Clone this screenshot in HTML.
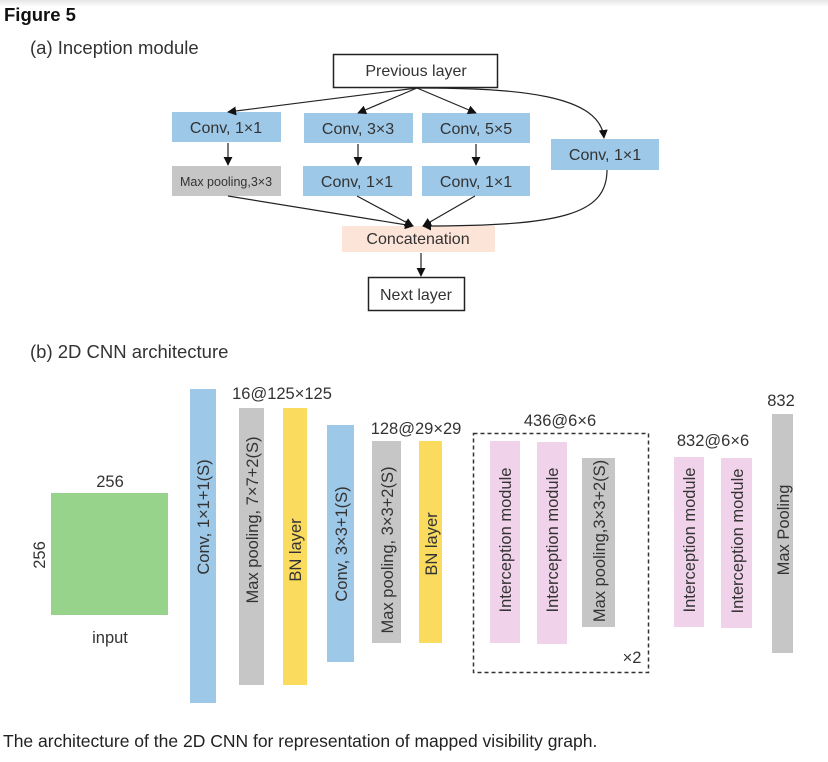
<!DOCTYPE html>
<html><head><meta charset="utf-8"><style>
html,body{margin:0;padding:0;background:#fff;}
svg{display:block;font-family:"Liberation Sans",sans-serif;}
</style></head><body>
<svg width="828" height="762" viewBox="0 0 828 762" xmlns="http://www.w3.org/2000/svg">
<defs>
<linearGradient id="sh" x1="0" y1="0" x2="0" y2="1"><stop offset="0" stop-color="#e6e6e6"/><stop offset="1" stop-color="#fff"/></linearGradient>
<marker id="ah" viewBox="0 0 10 10" refX="9" refY="5" markerWidth="9" markerHeight="9" markerUnits="userSpaceOnUse" orient="auto"><path d="M0,0 L10,5 L0,10 z" fill="#111"/></marker>
</defs>
<rect x="0" y="0" width="828" height="7" fill="url(#sh)"/>
<text x="4" y="21" font-size="18.5" font-weight="bold" fill="#111">Figure 5</text>
<text x="30" y="54" font-size="18.5" fill="#333">(a) Inception module</text>

<rect x="333.5" y="54.5" width="164" height="33" fill="#fff" stroke="#222" stroke-width="1.5"/>
<text x="416" y="76" font-size="16" fill="#333" text-anchor="middle">Previous layer</text>
<g fill="#9dc8e8">
<rect x="172" y="112" width="109" height="30"/>
<rect x="304" y="113" width="109" height="30"/>
<rect x="422" y="113" width="108" height="30"/>
<rect x="551" y="139" width="108" height="31"/>
<rect x="303" y="166" width="109" height="30"/>
<rect x="422" y="166" width="108" height="30"/>
</g>
<rect x="172" y="166" width="109" height="30" fill="#c6c6c6"/>
<rect x="342" y="226" width="153" height="26" fill="#fde4d8"/>
<rect x="368.5" y="277.5" width="96" height="33" fill="#fff" stroke="#222" stroke-width="1.5"/>
<g font-size="16" fill="#333" text-anchor="middle">
<text x="226" y="133">Conv, 1×1</text>
<text x="358" y="134">Conv, 3×3</text>
<text x="476" y="134">Conv, 5×5</text>
<text x="605" y="160">Conv, 1×1</text>
<text x="357" y="187">Conv, 1×1</text>
<text x="476" y="187">Conv, 1×1</text>
<text x="418" y="244">Concatenation</text>
<text x="416" y="300">Next layer</text>
</g>
<text x="226" y="186" font-size="12.5" fill="#333" text-anchor="middle">Max pooling,3×3</text>
<g stroke="#222" stroke-width="1.2" fill="none" marker-end="url(#ah)">
<path d="M417,88 L228,112"/>
<path d="M417,88 L358,113"/>
<path d="M417,88 L476,113"/>
<path d="M417,88 C520,88 600,95 604,138"/>
<path d="M228,143 L228,165"/>
<path d="M358,144 L358,165"/>
<path d="M476,144 L476,165"/>
<path d="M228,196 L413,226"/>
<path d="M357,196 L413,226"/>
<path d="M475,196 L423,226"/>
<path d="M607,170 C607,215 560,226 423,226"/>
<path d="M421,253 L421,276"/>
</g>

<text x="30" y="358" font-size="18.5" fill="#333">(b) 2D CNN architecture</text>

<rect x="51" y="493" width="117" height="122" fill="#97d38a"/>
<g font-size="16.5" fill="#333" text-anchor="middle">
<text x="110" y="487">256</text>
<text x="110" y="643">input</text>
<text transform="translate(45,555) rotate(-90)">256</text>
<text x="282" y="399">16@125×125</text>
<text x="416" y="434">128@29×29</text>
<text x="560" y="426">436@6×6</text>
<text x="713" y="446">832@6×6</text>
<text x="781" y="406">832</text>
<text x="632" y="663">×2</text>
</g>
<rect x="473.5" y="433.5" width="175" height="239" fill="none" stroke="#333" stroke-width="1.5" stroke-dasharray="4,3"/>
<rect x="190" y="389" width="26" height="314" fill="#9dc8e8"/>
<rect x="239" y="408" width="25" height="277" fill="#c6c6c6"/>
<rect x="283" y="408" width="24" height="277" fill="#fadb5e"/>
<rect x="327" y="425" width="27" height="237" fill="#9dc8e8"/>
<rect x="372" y="441" width="29" height="202" fill="#c6c6c6"/>
<rect x="419" y="441" width="23" height="202" fill="#fadb5e"/>
<rect x="490" y="441" width="30" height="202" fill="#f0d3ea"/>
<rect x="537" y="442" width="30" height="202" fill="#f0d3ea"/>
<rect x="582" y="458" width="33" height="169" fill="#c6c6c6"/>
<rect x="674" y="457" width="30" height="170" fill="#f0d3ea"/>
<rect x="721" y="458" width="31" height="170" fill="#f0d3ea"/>
<rect x="772" y="414" width="21" height="239" fill="#c6c6c6"/>
<g font-size="16.5" fill="#333" text-anchor="middle">
<text transform="translate(209,517) rotate(-90)">Conv, 1×1+1(S)</text>
<text transform="translate(258,520) rotate(-90)">Max pooling, 7×7+2(S)</text>
<text transform="translate(301,550) rotate(-90)">BN layer</text>
<text transform="translate(347,544) rotate(-90)">Conv, 3×3+1(S)</text>
<text transform="translate(393,550) rotate(-90)">Max pooling, 3×3+2(S)</text>
<text transform="translate(437,544) rotate(-90)">BN layer</text>
<text transform="translate(511,540) rotate(-90)">Interception module</text>
<text transform="translate(558,540) rotate(-90)">Interception module</text>
<text transform="translate(605,541) rotate(-90)">Max pooling,3×3+2(S)</text>
<text transform="translate(695,540) rotate(-90)">Interception module</text>
<text transform="translate(743,541) rotate(-90)">Interception module</text>
<text transform="translate(789,530) rotate(-90)">Max Pooling</text>
</g>

<text x="3" y="747" font-size="17.5" fill="#222">The architecture of the 2D CNN for representation of mapped visibility graph.</text>
</svg>
</body></html>
